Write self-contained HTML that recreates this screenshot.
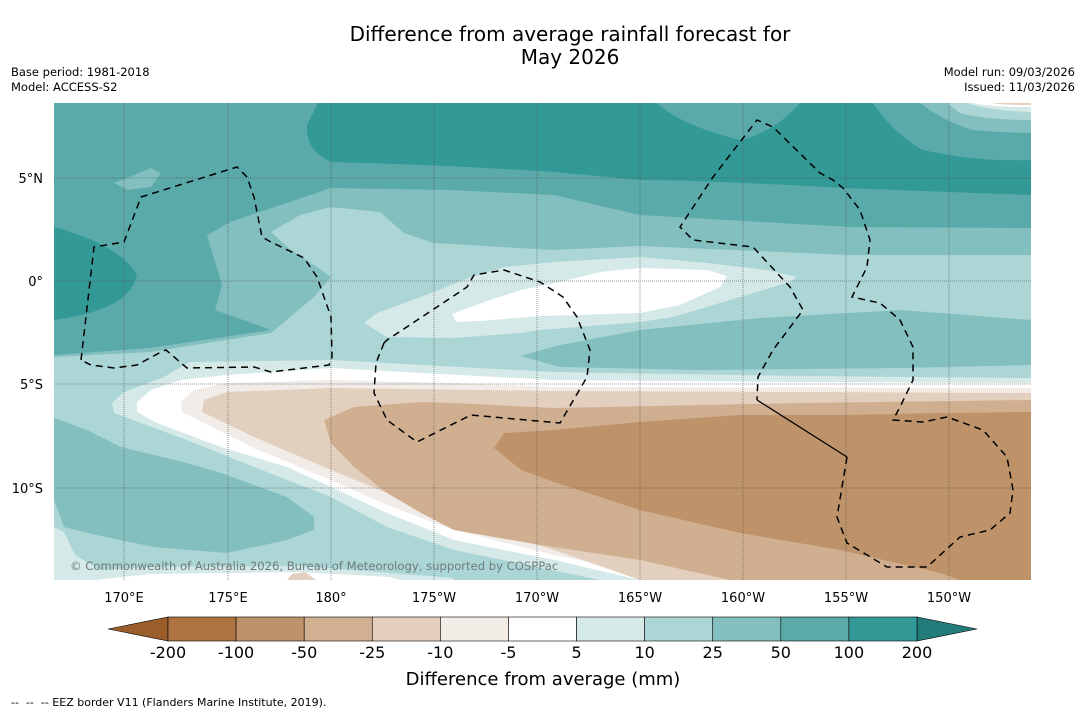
<!DOCTYPE html>
<html><head><meta charset="utf-8"><style>
body{margin:0;background:#fff;width:1085px;height:713px;overflow:hidden;font-family:"Liberation Sans","DejaVu Sans",sans-serif}
svg{position:absolute;left:0;top:0}
</style></head><body>
<svg width="1085" height="713" xmlns="http://www.w3.org/2000/svg" font-family="DejaVu Sans, Liberation Sans, sans-serif">
<text x="570" y="41" font-size="20" text-anchor="middle">Difference from average rainfall forecast for</text>
<text x="570" y="64" font-size="20" text-anchor="middle">May 2026</text>
<text x="11" y="76" font-size="11.5">Base period: 1981-2018</text>
<text x="11" y="91" font-size="11.5">Model: ACCESS-S2</text>
<text x="1075" y="76" font-size="11.5" text-anchor="end">Model run: 09/03/2026</text>
<text x="1075" y="91" font-size="11.5" text-anchor="end">Issued: 11/03/2026</text>
<defs><clipPath id="pc"><rect x="54" y="103" width="977" height="477"/></clipPath></defs>
<g clip-path="url(#pc)">
<rect x="54" y="103" width="977" height="477" fill="#5aaaa9"/>
<path fill="#339996" d="M318,103 L657,103 Q680,125 740,140 Q775,132 800,103 L873,103 Q895,135 923,150 Q975,162 1031,160 L1031,195 Q950,192 843,188 Q700,180 640,180 L554,172 Q450,165 331,162 Q305,150 307,125 Z"/>
<path fill="#83bfbe" d="M920,103 L1031,103 L1031,133 Q990,132 973,130 Q945,122 920,103Z"/>
<path fill="#acd5d5" d="M947,103 L1031,103 L1031,120 Q985,120 960,113Z"/>
<path fill="#d5e9e8" d="M967,103 L1031,103 L1031,112 Q985,110 967,103Z"/>
<path fill="#ffffff" d="M973,103 L1031,103 L1031,107 Q990,107 973,103Z"/>
<path fill="#e3cfbd" d="M992,103 L1031,103 L1031,105 Q1000,105 992,103Z"/>
<path fill="#339996" d="M54,227 Q120,245 137,275 Q130,310 54,320Z"/>
<path fill="#83bfbe" d="M114,183 L151,168 L161,173 L151,187 L127,190Z"/>
<path fill="#83bfbe" d="M54,355 L150,348 L271,330 L215,310 L222,285 L207,235 L230,222 L331,188 L450,190 L554,195 L640,215 L850,227 L1031,228 L1031,580 L54,580Z"/>
<path fill="#acd5d5" d="M54,357 L150,352 L271,333 L314,297 L331,277 L317,267 L287,247 L271,232 L300,215 L331,207 L380,212 L404,233 L434,243 L554,250 L640,246 L850,255 L1031,255 L1031,580 L54,580Z"/>
<path fill="#83bfbe" d="M520,356 L560,345 L640,330 L760,318 L900,310 L1031,320 L1031,365 L900,368 L700,370 L560,367Z"/>
<path fill="#d5e9e8" d="M364,323 L377,313 L421,297 L471,277 L504,267 L554,262 L640,257 L707,263 L767,270 L797,277 L790,282 L740,297 L673,317 L640,322 L540,330 L521,333 L454,338 L387,337Z"/>
<path fill="#ffffff" d="M452,314 L490,300 L521,290 L560,282 L600,272 L640,268 L707,270 L727,276 L720,287 L680,305 L640,313 L540,316 L480,321 L456,322Z"/>
<path fill="#83bfbe" d="M54,418 L87,430 L121,447 L187,463 L221,473 L287,497 L314,517 L314,530 L287,540 L227,553 L154,547 L87,533 L64,527 L54,500Z"/>
<path fill="#d5e9e8" d="M54,527 L64,532 L75,555 L100,570 L150,567 L300,566 L454,578 L454,580 L54,580Z"/>
<path fill="#ffffff" d="M95,580 L150,574 L300,572 L390,577 L400,580Z"/>
<path fill="#d5e9e8" d="M112,403 L124,392 L164,377 L190,362 L331,360 L554,372 L800,376 L1031,378 L1031,580 L600,580 L454,550 L387,527 L331,497 L254,467 L187,440 L114,413Z"/>
<path fill="#ffffff" d="M137,402 L151,390 L181,380 L227,375 L331,368 L554,380 L800,382 L1031,383 L1031,580 L640,580 L554,560 L454,540 L387,513 L331,487 L287,467 L221,447 L157,423 L137,412Z"/>
<path fill="#f2ece8" d="M182,412 L181,402 L194,390 L227,383 L331,380 L454,383 L554,387 L1031,388 L1031,580 L680,580 L554,555 L454,530 L387,505 L331,480 L254,448 L204,423Z"/>
<path fill="#e3cfbd" d="M202,412 L204,400 L227,392 L331,388 L554,391 L800,392 L1031,393 L1031,580 L640,580 L554,550 L454,520 L387,493 L331,470 L254,437Z"/>
<path fill="#d0af91" d="M324,420 L354,407 L421,402 L454,403 L554,408 L800,403 L1031,400 L1031,580 L730,580 L640,560 L540,545 L454,530 L421,513 L387,493 L354,467 L331,443Z"/>
<path fill="#bf9369" d="M494,448 L504,433 L554,430 L640,422 L740,415 L840,415 L940,413 L1031,412 L1031,580 L960,580 L940,573 L840,550 L740,533 L640,510 L554,482 L521,470Z"/>
<path fill="#e3cfbd" d="M287,580 L292,574 L305,572 L316,580Z"/>
<g stroke="#555" stroke-width="0.8" stroke-dasharray="1,1" opacity="0.8">
<line x1="124" y1="103" x2="124" y2="580"/><line x1="228" y1="103" x2="228" y2="580"/><line x1="331" y1="103" x2="331" y2="580"/><line x1="434" y1="103" x2="434" y2="580"/><line x1="537" y1="103" x2="537" y2="580"/><line x1="640" y1="103" x2="640" y2="580"/><line x1="743" y1="103" x2="743" y2="580"/><line x1="846" y1="103" x2="846" y2="580"/><line x1="949" y1="103" x2="949" y2="580"/>
<line x1="54" y1="178" x2="1031" y2="178"/><line x1="54" y1="281" x2="1031" y2="281"/><line x1="54" y1="384" x2="1031" y2="384"/><line x1="54" y1="488" x2="1031" y2="488"/>
</g>
<g fill="none" stroke="#000" stroke-width="1.5" stroke-dasharray="7,5">
<path d="M81,360 L94,247 L124,242 L141,197 L237,167 L247,177 L254,197 L262,237 L271,242 L304,258 L317,277 L331,317 L332,357 L329,365 L271,372 L254,367 L187,368 L181,363 L166,350 L161,352 L137,365 L114,368 L91,365Z"/>
<path d="M384,343 L376,363 L374,393 L387,420 L417,442 L471,415 L504,418 L560,423 L587,377 L590,350 L577,317 L563,297 L540,282 L504,270 L474,275 L467,287 L437,307 L387,340Z"/>
<path d="M847,457 L837,517 L847,543 L887,567 L927,567 L960,537 L990,530 L1010,513 L1013,490 L1007,457 L983,430 L947,417 L923,422 L893,420 L900,407 L913,380 L913,347 L900,320 L880,303 L852,297 L867,267 L870,240 L860,210 L843,188 L833,180 L820,173 L773,127 L757,120 L713,177 L680,227 L693,240 L753,247 L790,287 L803,310 L773,350 L758,377 L757,400"/>
</g>
<path d="M757,400 L847,457" stroke="#000" stroke-width="1.3" fill="none"/>
<text x="70" y="570" font-size="11.6" fill="#6e7c7c">© Commonwealth of Australia 2026, Bureau of Meteorology, supported by COSPPac</text>
</g>
<g font-size="13" text-anchor="end">
<text x="43" y="183">5°N</text><text x="43" y="286">0°</text><text x="43" y="389">5°S</text><text x="43" y="493">10°S</text>
</g>
<g font-size="13" text-anchor="middle">
<text x="124" y="602">170°E</text><text x="228" y="602">175°E</text><text x="331" y="602">180°</text><text x="434" y="602">175°W</text><text x="537" y="602">170°W</text><text x="640" y="602">165°W</text><text x="743" y="602">160°W</text><text x="846" y="602">155°W</text><text x="949" y="602">150°W</text>
</g>
<g id="cbar"></g>
<text x="543" y="685" font-size="18" text-anchor="middle">Difference from average (mm)</text>
<text x="11" y="706" font-size="11" xml:space="preserve" style="white-space:pre">--  --  -- EEZ border V11 (Flanders Marine Institute, 2019).</text>
</svg>
<script>
const levels = ["-200","-100","-50","-25","-10","-5","5","10","25","50","100","200"];
const binColors = ["#ad7341","#bf9369","#d1b091","#e4cfbd","#f3ede8","#ffffff","#d5e9e8","#acd5d5","#83bfbe","#5aaaa9","#339996"];
const lowColor = "#9a5e2a";
const highColor = "#237c79";
const NS="http://www.w3.org/2000/svg";
const g=document.getElementById('cbar');
const x0=168,x1=917,y0=617,h=24;
const bw=(x1-x0)/binColors.length;
function xAt(i){return x0+i*bw;}
const lt=document.createElementNS(NS,'polygon');
lt.setAttribute('points',`${x0},${y0} ${x0},${y0+h} 108,${y0+h/2}`);
lt.setAttribute('fill',lowColor);lt.setAttribute('stroke','#000');lt.setAttribute('stroke-width','0.6');


g.appendChild(lt);
const rt=document.createElementNS(NS,'polygon');
rt.setAttribute('points',`${x1},${y0} ${x1},${y0+h} 977,${y0+h/2}`);
rt.setAttribute('fill',highColor);rt.setAttribute('stroke','#000');rt.setAttribute('stroke-width','0.6');


g.appendChild(rt);
binColors.forEach((c,i)=>{
  const r=document.createElementNS(NS,'rect');
  r.setAttribute('x',xAt(i));r.setAttribute('y',y0);r.setAttribute('width',bw);r.setAttribute('height',h);
  r.setAttribute('fill',c);r.setAttribute('stroke','#000');r.setAttribute('stroke-width','0.6');
  
  
  g.appendChild(r);
});
levels.forEach((l,i)=>{
  const t=document.createElementNS(NS,'text');
  t.setAttribute('x',xAt(i));t.setAttribute('y',658);t.setAttribute('font-size','16');t.setAttribute('text-anchor','middle');
  t.textContent=l;
  
  
  g.appendChild(t);
});
</script>
</body></html>
